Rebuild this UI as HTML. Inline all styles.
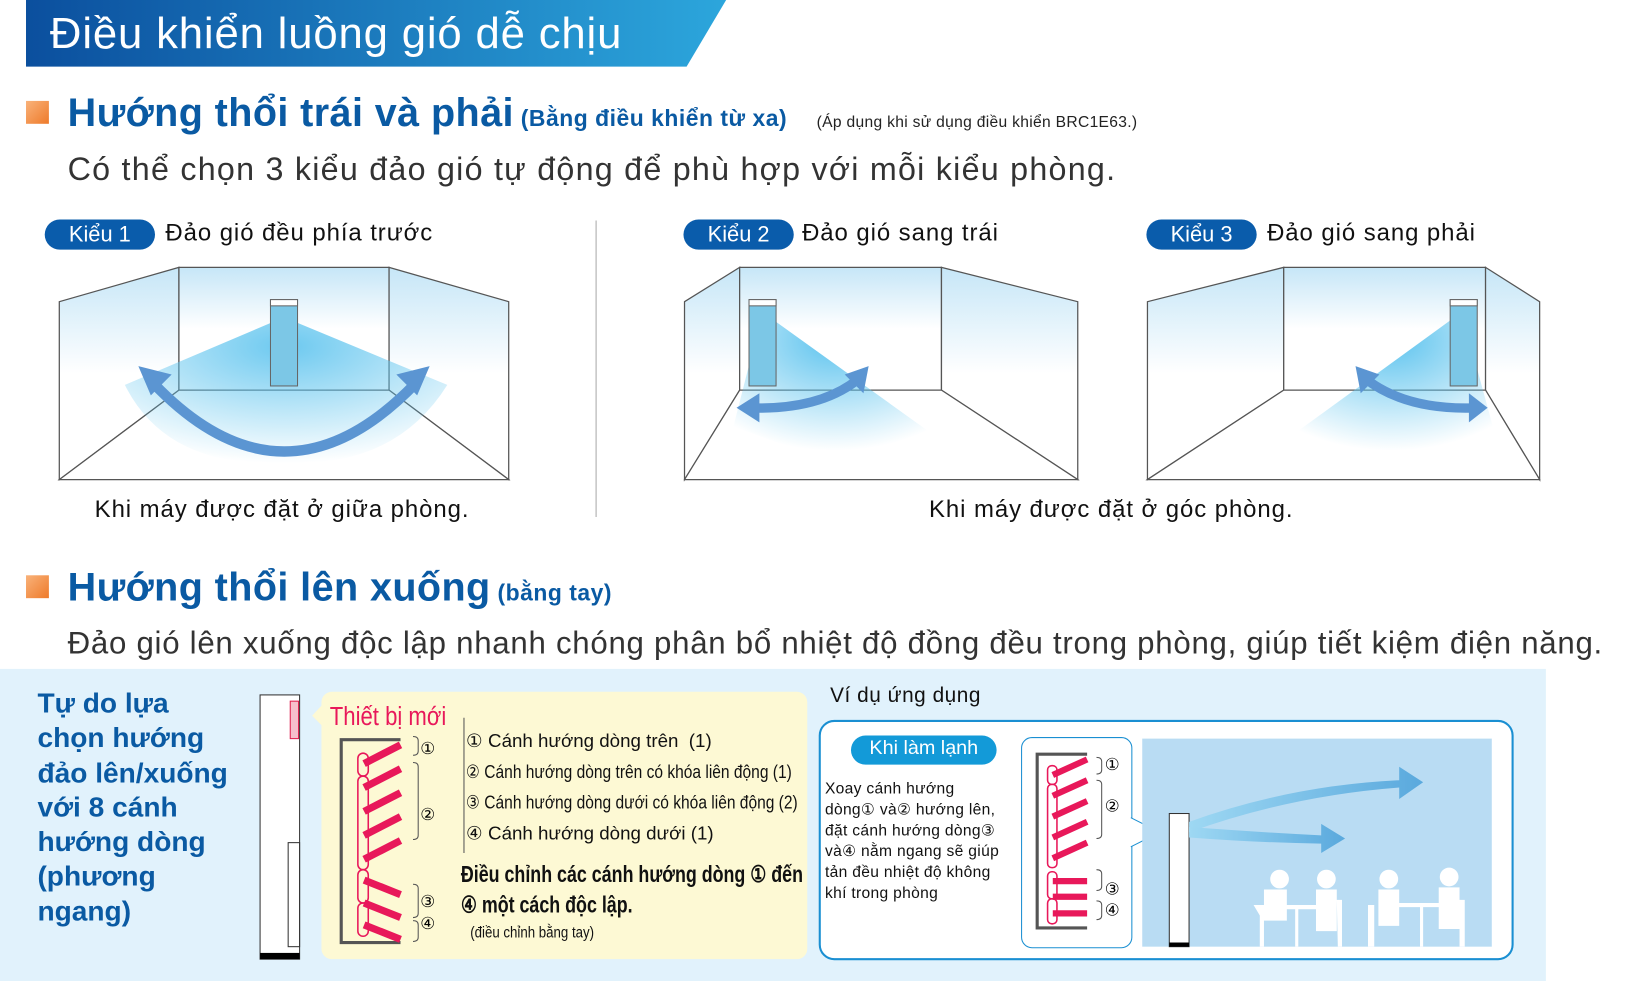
<!DOCTYPE html>
<html><head><meta charset="utf-8"><style>
html,body{margin:0;padding:0;background:#fff;overflow:hidden;width:1627px;height:981px}
#c{position:absolute;left:0;top:0;width:1564px;height:943px;transform:scale(1.0403);transform-origin:0 0;font-family:"Liberation Sans",sans-serif}
.a{position:absolute;white-space:nowrap}
.pill{position:absolute;background:#0a5cab;color:#fff;border-radius:15px;font-size:21px;text-align:center;line-height:29px;height:29px}
.h2{color:#0a5aa3;font-weight:bold;font-size:38px;letter-spacing:0.4px}
.sq{position:absolute;width:22px;height:22px;background:linear-gradient(135deg,#f9b27a,#ee7a2a)}
.n{font-family:"Liberation Sans","DejaVu Sans",sans-serif}
</style></head><body><div id="c">
<svg class="a" style="left:0;top:0" width="1564" height="943">
<defs>
<linearGradient id="hb" x1="0" x2="1"><stop offset="0" stop-color="#0b4f9e"/><stop offset="1" stop-color="#2ca6dc"/></linearGradient>
<linearGradient id="wall" x1="0" y1="0" x2="0" y2="1"><stop offset="0" stop-color="#c6e6f7"/><stop offset="0.5" stop-color="#fff"/></linearGradient>
<radialGradient id="fan" cx="0.5" cy="0.2" r="0.8"><stop offset="0" stop-color="#5cc3ee"/><stop offset="1" stop-color="#5cc3ee" stop-opacity="0"/></radialGradient>
<linearGradient id="fl" x1="0" x2="1"><stop offset="0" stop-color="#9ed8f3"/><stop offset="1" stop-color="#5aa9dd"/></linearGradient>
</defs>
<polygon points="25,0 698,0 660,64 25,64" fill="url(#hb)"/>
<g stroke="#555" stroke-width="1.2" fill="url(#wall)">
<polygon points="57,290 172,257 172,375 57,461"/><polygon points="172,257 374,257 374,375 172,375"/><polygon points="374,257 489,290 489,461 374,375"/>
<polygon points="57,461 172,375 374,375 489,461" fill="#fff"/>
</g>
<path d="M273,305 L430,370 Q380,450 273,445 Q160,450 120,370 Z" fill="url(#fan)" opacity="0.9"/>
<rect x="260" y="288" width="26" height="83" fill="#7cc7e6" stroke="#666"/><rect x="260" y="288" width="26" height="6" fill="#fff" stroke="#666"/>
<path d="M147,368 Q273,500 400,368" fill="none" stroke="#5b95d2" stroke-width="10"/>
<polygon points="133,352 165,360 145,380" fill="#5b95d2"/><polygon points="413,352 381,360 401,380" fill="#5b95d2"/>
<g stroke="#555" stroke-width="1.2" fill="url(#wall)">
<polygon points="658,290 711,257 711,375 658,461"/><polygon points="711,257 905,257 905,375 711,375"/><polygon points="905,257 1036,290 1036,461 905,375"/>
<polygon points="658,461 711,375 905,375 1036,461" fill="#fff"/>
</g>
<path d="M733,300 L900,420 Q850,440 760,430 L705,410 Z" fill="url(#fan)"/>
<rect x="720" y="288" width="26" height="83" fill="#7cc7e6" stroke="#666"/><rect x="720" y="288" width="26" height="6" fill="#fff" stroke="#666"/>
<path d="M718,392 Q790,395 828,362" fill="none" stroke="#5b95d2" stroke-width="9"/>
<polygon points="708,392 730,378 730,406" fill="#5b95d2"/><polygon points="835,352 830,378 812,360" fill="#5b95d2"/>
<g stroke="#555" stroke-width="1.2" fill="url(#wall)">
<polygon points="1103,290 1234,257 1234,375 1103,461"/><polygon points="1234,257 1428,257 1428,375 1234,375"/><polygon points="1428,257 1480,290 1480,461 1428,375"/>
<polygon points="1103,461 1234,375 1428,375 1480,461" fill="#fff"/>
</g>
<path d="M1405,300 L1240,420 Q1300,440 1390,430 L1435,410 Z" fill="url(#fan)"/>
<rect x="1394" y="288" width="26" height="83" fill="#7cc7e6" stroke="#666"/><rect x="1394" y="288" width="26" height="6" fill="#fff" stroke="#666"/>
<path d="M1310,362 Q1350,395 1420,392" fill="none" stroke="#5b95d2" stroke-width="9"/>
<polygon points="1430,392 1412,378 1412,406" fill="#5b95d2"/><polygon points="1303,352 1308,378 1326,360" fill="#5b95d2"/>
<line x1="573" y1="212" x2="573" y2="497" stroke="#aaa"/>
<rect x="0" y="643" width="1486" height="300" fill="#e1f2fc"/>
<rect x="250" y="668" width="38" height="254" fill="#fff" stroke="#333"/><rect x="250" y="916" width="38" height="6" fill="#000"/>
<rect x="277" y="810" width="11" height="100" fill="none" stroke="#333"/><rect x="279" y="674" width="8" height="36" fill="#f6c0cc" stroke="#e0204f"/>
<polygon points="300,688 312,675 312,700" fill="#fdf9d4"/>
<rect x="309" y="665" width="467" height="257" rx="10" fill="#fdf9d4"/>
<path d="M385,711 H328 V906 H385" fill="none" stroke="#555" stroke-width="3"/>
<g stroke="#e8185a" stroke-width="7">
<line x1="350" y1="734" x2="385" y2="716"/><line x1="350" y1="757" x2="385" y2="739"/><line x1="350" y1="780" x2="385" y2="762"/><line x1="350" y1="803" x2="385" y2="785"/><line x1="350" y1="826" x2="385" y2="808"/>
<line x1="350" y1="846" x2="385" y2="860"/><line x1="350" y1="868" x2="385" y2="882"/><line x1="350" y1="889" x2="385" y2="903"/>
</g>
<g fill="none" stroke="#e8185a" stroke-width="1.5"><rect x="344" y="724" width="10" height="22" rx="5"/><rect x="344" y="746" width="10" height="90" rx="5"/><rect x="344" y="836" width="10" height="32" rx="5"/><rect x="344" y="868" width="10" height="32" rx="5"/></g>
<g fill="none" stroke="#555"><path d="M397,708 q5,0 5,4 v10 q0,4 -5,4"/><path d="M397,733 q5,0 5,4 v66 q0,4 -5,4"/><path d="M397,850 q5,0 5,4 v24 q0,4 -5,4"/><path d="M397,885 q5,0 5,4 v12 q0,4 -5,4"/><path d="M446,690 v130"/></g>
<rect x="788" y="693" width="666" height="229" rx="14" fill="#fff" stroke="#1a8fd2" stroke-width="2"/>
<rect x="818" y="707" width="140" height="28" rx="14" fill="#139ad8"/>
<rect x="982" y="709" width="106" height="202" rx="10" fill="#fff" stroke="#1a8fd2"/>
<polygon points="1087,786 1115,800 1087,814" fill="#fff"/><path d="M1087,786 L1115,800 L1087,814" fill="none" stroke="#1a8fd2"/>
<path d="M1045,725 H997 V892 H1045" fill="none" stroke="#555" stroke-width="3"/>
<g stroke="#e8185a" stroke-width="6">
<line x1="1012" y1="745" x2="1045" y2="730"/><line x1="1012" y1="765" x2="1045" y2="750"/><line x1="1012" y1="785" x2="1045" y2="770"/><line x1="1012" y1="805" x2="1045" y2="790"/><line x1="1012" y1="825" x2="1045" y2="810"/>
<line x1="1012" y1="847" x2="1045" y2="847"/><line x1="1012" y1="862" x2="1045" y2="862"/><line x1="1012" y1="878" x2="1045" y2="878"/>
</g>
<g fill="none" stroke="#e8185a" stroke-width="1.5"><rect x="1007" y="736" width="9" height="18" rx="4"/><rect x="1007" y="754" width="9" height="80" rx="4"/><rect x="1007" y="838" width="9" height="26" rx="4"/><rect x="1007" y="864" width="9" height="24" rx="4"/></g>
<g fill="none" stroke="#555"><path d="M1054,728 q5,0 5,4 v8 q0,4 -5,4"/><path d="M1054,750 q5,0 5,4 v48 q0,4 -5,4"/><path d="M1054,836 q5,0 5,4 v12 q0,4 -5,4"/><path d="M1054,866 q5,0 5,4 v10 q0,4 -5,4"/></g>
<rect x="1098" y="710" width="336" height="200" fill="#b9dcf3"/>
<rect x="1124" y="782" width="19" height="128" fill="#fff" stroke="#333"/><rect x="1124" y="906" width="19" height="4" fill="#000"/>
<path d="M1143,790 Q1240,755 1345,750 L1345,737 L1368,752 L1345,768 L1345,757 Q1240,765 1143,800 Z" fill="url(#fl)"/>
<path d="M1143,795 Q1210,800 1270,803 L1270,792 L1293,806 L1270,820 L1270,811 Q1210,810 1143,805 Z" fill="url(#fl)"/>
<g fill="#fff"><circle cx="1230" cy="845" r="9"/><path d="M1215,855 h22 v30 h-22z M1205,870 h10 v40 h-4 v-30z M1225,870 h45 v4 h-45z M1245,874 h3 v36 h-3z"/><circle cx="1275" cy="845" r="9"/><path d="M1265,855 h20 v40 h-20z M1285,865 h5 v45 h-4z"/>
<circle cx="1335" cy="845" r="9"/><path d="M1325,855 h20 v35 h-20z M1315,870 h6 v40 h-6z M1345,868 h45 v4 h-45z M1365,872 h3 v38 h-3z"/><circle cx="1393" cy="843" r="9"/><path d="M1383,853 h20 v40 h-20z M1403,865 h5 v45 h-5z"/></g>
</svg>
<div class="a" style="left:48px;top:8px;font-size:42px;letter-spacing:0.8px;color:#fff">Điều khiển luồng gió dễ chịu</div>
<div class="sq" style="left:25px;top:97px"></div>
<div class="a" style="left:65px;top:88px"><span class="h2">Hướng thổi trái và phải</span><span style="color:#0a5aa3;font-weight:bold;font-size:22px;letter-spacing:0.5px"> (Bằng điều khiển từ xa)</span></div>
<div class="a" style="left:785px;top:109px;font-size:15px;letter-spacing:0.3px;color:#222">(Áp dụng khi sử dụng điều khiển BRC1E63.)</div>
<div class="a" style="left:65px;top:145px;font-size:31px;letter-spacing:1.2px;color:#333">Có thể chọn 3 kiểu đảo gió tự động để phù hợp với mỗi kiểu phòng.</div>
<div class="pill" style="left:43px;top:211px;width:106px">Kiểu 1</div><div class="a" style="left:159px;top:210px;font-size:23px;letter-spacing:0.9px;color:#111">Đảo gió đều phía trước</div>
<div class="pill" style="left:657px;top:211px;width:106px">Kiểu 2</div><div class="a" style="left:771px;top:210px;font-size:23px;letter-spacing:0.9px;color:#111">Đảo gió sang trái</div>
<div class="pill" style="left:1102px;top:211px;width:106px">Kiểu 3</div><div class="a" style="left:1218px;top:210px;font-size:23px;letter-spacing:0.9px;color:#111">Đảo gió sang phải</div>
<div class="a" style="left:91px;top:476px;font-size:23px;letter-spacing:0.9px;color:#111">Khi máy được đặt ở giữa phòng.</div>
<div class="a" style="left:893px;top:476px;font-size:23px;letter-spacing:0.9px;color:#111">Khi máy được đặt ở góc phòng.</div>
<div class="sq" style="left:25px;top:553px"></div>
<div class="a" style="left:65px;top:544px"><span class="h2">Hướng thổi lên xuống</span><span style="color:#0a5aa3;font-weight:bold;font-size:22px;letter-spacing:0.5px"> (bằng tay)</span></div>
<div class="a" style="left:65px;top:602px;font-size:30px;letter-spacing:0.7px;color:#333">Đảo gió lên xuống độc lập nhanh chóng phân bổ nhiệt độ đồng đều trong phòng, giúp tiết kiệm điện năng.</div>
<div class="a" style="left:36px;top:660px;font-size:27px;line-height:33.3px;color:#0a5aa3;font-weight:bold">Tự do lựa<br>chọn hướng<br>đảo lên/xuống<br>với 8 cánh<br>hướng dòng<br>(phương<br>ngang)</div>
<div class="a" style="left:317px;top:675px;font-size:25px;color:#e8185a;transform:scaleX(.85);transform-origin:0 0">Thiết bị mới</div>
<div class="a n" style="left:404px;top:710px;font-size:16px;line-height:21px">①<br><br><br>②<br><br><br><br>③<br>④</div>
<div class="a" style="left:448px;top:698px;font-size:18px;line-height:29.7px;color:#111">① Cánh hướng dòng trên &nbsp;(1)<br><span style="display:inline-block;transform:scaleX(.83);transform-origin:0 0">② Cánh hướng dòng trên có khóa liên động (1)</span><br><span style="display:inline-block;transform:scaleX(.83);transform-origin:0 0">③ Cánh hướng dòng dưới có khóa liên động (2)</span><br>④ Cánh hướng dòng dưới (1)</div>
<div class="a" style="left:443px;top:826px;font-size:22px;line-height:29px;font-weight:bold;color:#111;transform:scaleX(.78);transform-origin:0 0">Điều chỉnh các cánh hướng dòng ① đến<br>④ một cách độc lập.</div>
<div class="a" style="left:452px;top:888px;font-size:15px;color:#111;transform:scaleX(.85);transform-origin:0 0">(điều chỉnh bằng tay)</div>
<div class="a" style="left:798px;top:658px;font-size:20px;letter-spacing:0.5px;color:#111">Ví dụ ứng dụng</div>
<div class="a" style="left:818px;top:709px;width:140px;text-align:center;font-size:19px;color:#fff">Khi làm lạnh</div>
<div class="a" style="left:793px;top:749px;font-size:15px;line-height:20px;letter-spacing:0.3px;color:#111">Xoay cánh hướng<br>dòng① và② hướng lên,<br>đặt cánh hướng dòng③<br>và④ nằm ngang sẽ giúp<br>tản đều nhiệt độ không<br>khí trong phòng</div>
<div class="a n" style="left:1062px;top:726px;font-size:16px;line-height:20px">①<br><br>②<br><br><br><br>③<br>④</div>
</div></body></html>
